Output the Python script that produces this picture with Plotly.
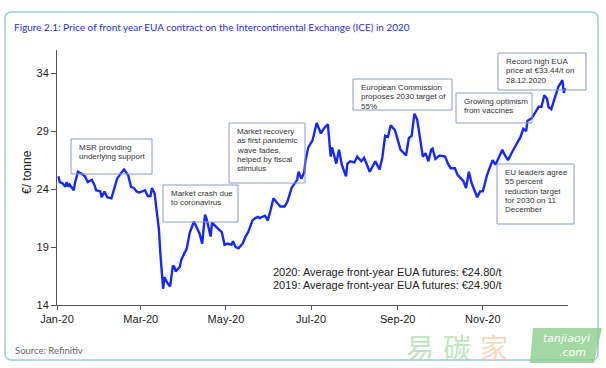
import plotly.graph_objects as go

# ---------------- data ----------------
dates = [
    "2020-01-02", "2020-01-03", "2020-01-05", "2020-01-07", "2020-01-08", "2020-01-09",
    "2020-01-10", "2020-01-13", "2020-01-14", "2020-01-16", "2020-01-19", "2020-01-21",
    "2020-01-23", "2020-01-26", "2020-01-28", "2020-01-29", "2020-02-01", "2020-02-02",
    "2020-02-04", "2020-02-06", "2020-02-09", "2020-02-11", "2020-02-13", "2020-02-16",
    "2020-02-18", "2020-02-21", "2020-02-23", "2020-02-25", "2020-02-27", "2020-02-29",
    "2020-03-02", "2020-03-04", "2020-03-06", "2020-03-08", "2020-03-09", "2020-03-11",
    "2020-03-12", "2020-03-14", "2020-03-15", "2020-03-17", "2020-03-18", "2020-03-20",
    "2020-03-22", "2020-03-24", "2020-03-25", "2020-03-26", "2020-03-29", "2020-03-30",
    "2020-04-03", "2020-04-05", "2020-04-08", "2020-04-10", "2020-04-12", "2020-04-14",
    "2020-04-16", "2020-04-17", "2020-04-20", "2020-04-21", "2020-04-24", "2020-04-26",
    "2020-04-28", "2020-04-30", "2020-05-02", "2020-05-05", "2020-05-06", "2020-05-08",
    "2020-05-10", "2020-05-13", "2020-05-15", "2020-05-17", "2020-05-20", "2020-05-22",
    "2020-05-24", "2020-05-25", "2020-05-29", "2020-05-31", "2020-06-02", "2020-06-04",
    "2020-06-06", "2020-06-09", "2020-06-12", "2020-06-14", "2020-06-17", "2020-06-18",
    "2020-06-21", "2020-06-22", "2020-06-24", "2020-06-26", "2020-06-27", "2020-06-29",
    "2020-07-02", "2020-07-05", "2020-07-08", "2020-07-10", "2020-07-13", "2020-07-15",
    "2020-07-16", "2020-07-19", "2020-07-21", "2020-07-23", "2020-07-26", "2020-07-27",
    "2020-07-29", "2020-08-01", "2020-08-03", "2020-08-06", "2020-08-08", "2020-08-12",
    "2020-08-14", "2020-08-16", "2020-08-19", "2020-08-21", "2020-08-23", "2020-08-25",
    "2020-08-27", "2020-08-30", "2020-08-31", "2020-09-03", "2020-09-07", "2020-09-09",
    "2020-09-11", "2020-09-13", "2020-09-15", "2020-09-17", "2020-09-19", "2020-09-21",
    "2020-09-23", "2020-09-25", "2020-09-26", "2020-09-28", "2020-10-01", "2020-10-05",
    "2020-10-07", "2020-10-09", "2020-10-12", "2020-10-14", "2020-10-18", "2020-10-20",
    "2020-10-22", "2020-10-24", "2020-10-26", "2020-10-28", "2020-10-30", "2020-11-01",
    "2020-11-04", "2020-11-06", "2020-11-08", "2020-11-10", "2020-11-12", "2020-11-15",
    "2020-11-16", "2020-11-19", "2020-11-22", "2020-11-25", "2020-11-28", "2020-11-30",
    "2020-12-02", "2020-12-03", "2020-12-06", "2020-12-09", "2020-12-11", "2020-12-13",
    "2020-12-15", "2020-12-17", "2020-12-18", "2020-12-20", "2020-12-23", "2020-12-25",
    "2020-12-28", "2020-12-29", "2020-12-30",
]
prices = [
    25.1, 24.6, 24.5, 24.2, 24.6, 24.2,
    24.4, 23.9, 24.6, 25.5, 25.3, 25.1,
    24.6, 24.8, 24.3, 23.9, 23.8, 23.3,
    23.8, 23.3, 23.2, 24.1, 24.9, 25.4,
    25.7, 25.2, 24.2, 24.1, 23.8, 23.7,
    23.8, 23.9, 23.4, 23.4, 24.1, 23.6,
    22.5, 20.5, 18.5, 15.4, 16.4, 15.9,
    15.6, 17.4, 17.3, 16.9, 17.3, 17.9,
    18.9, 20.2, 21.2, 20.7, 20.2, 19.3,
    21.8, 21.5, 19.9, 21.1, 20.7, 20.5,
    20.3, 19.2, 19.3, 19.2, 19.5, 19.0,
    18.9, 19.3, 19.9, 20.3, 21.3, 21.5,
    21.6, 21.5, 21.7, 21.3, 22.2, 23.2,
    22.9, 22.5, 22.5, 22.9, 24.1, 24.3,
    24.8, 25.5, 24.9, 25.4, 26.5, 27.6,
    28.2, 29.7, 28.8, 29.2, 29.6, 26.8,
    27.6, 26.2, 27.4, 26.1, 25.1, 26.2,
    26.4, 26.3, 26.8, 26.4, 26.7, 25.5,
    25.9, 26.4, 25.7, 26.7, 28.6, 28.5,
    29.5, 29.1, 28.7, 27.4, 26.9, 28.4,
    28.6, 30.5, 30.0, 28.3, 26.8, 27.1,
    26.4, 27.4, 27.5, 26.6, 26.9, 26.8,
    26.2, 25.8, 25.8, 25.2, 24.7, 24.1,
    25.5, 24.5, 23.9, 23.3, 23.8, 23.8,
    25.2, 25.9, 26.5, 26.1, 26.6, 27.4,
    27.1, 26.5, 27.2, 27.8, 28.5, 29.2,
    29.0, 29.9, 30.1, 30.7, 31.1, 31.1,
    32.1, 31.8, 31.1, 30.9, 32.0, 32.8,
    33.4, 32.3, 32.7,
]

x_tick_vals = ["2020-01-01", "2020-03-01", "2020-05-01", "2020-07-01", "2020-09-01", "2020-11-01"]
x_tick_text = ["Jan-20", "Mar-20", "May-20", "Jul-20", "Sep-20", "Nov-20"]
y_tick_vals = [14, 19, 24, 29, 34]

title_text = "Figure 2.1: Price of front year EUA contract on the Intercontinental Exchange (ICE) in 2020"
y_title = "€/ tonne"
source_text = "Source: Refinitiv"
avg_lines = ["2020: Average front-year EUA futures: €24.80/t",
             "2019: Average front-year EUA futures: €24.90/t"]

callouts = [
    ["MSR providing", "underlying support"],
    ["Market crash due", "to coronavirus"],
    ["Market recovery", "as first pandemic", "wave fades,", "helped by fiscal", "stimulus"],
    ["European Commission", "proposes 2030 target of", "55%"],
    ["Growing optimism", "from vaccines"],
    ["Record high EUA", "price at €33.44/t on", "28.12.2020"],
    ["EU leaders agree", "55 percent", "reduction target", "for 2030 on 11", "December"],
]

# ---------------- layout geometry (pixels) ----------------
W, H = 606, 368
L, R, T, B = 57, 38, 50, 63
PW, PH = W - L - R, H - T - B


def px(x):
    return (x - L) / PW


def py(y):
    return (H - B - y) / PH


# box pixel rectangles (left, top, right, bottom)
boxes = [
    (71, 139, 152, 174),
    (163, 185, 238, 222),
    (229, 123, 305, 183),
    (353, 79, 452, 110),
    (456, 93, 532, 123),
    (498, 53, 586, 90),
    (497, 164, 574, 224),
]

BODY = "Liberation Sans, Arial, sans-serif"
NARROW = "Lato, sans-serif"

fig = go.Figure()
fig.add_trace(go.Scatter(
    x=dates, y=prices, mode="lines",
    line=dict(color="#1628ff", width=2.4),
    hoverinfo="skip", showlegend=False,
))

shapes = []
annotations = []

# outer rounded frame
x0, y0, x1, y1, r = 5, 12, 598, 360, 7
path = (f"M {px(x0 + r)},{py(y0)} L {px(x1 - r)},{py(y0)} Q {px(x1)},{py(y0)} {px(x1)},{py(y0 + r)} "
        f"L {px(x1)},{py(y1 - r)} Q {px(x1)},{py(y1)} {px(x1 - r)},{py(y1)} "
        f"L {px(x0 + r)},{py(y1)} Q {px(x0)},{py(y1)} {px(x0)},{py(y1 - r)} "
        f"L {px(x0)},{py(y0 + r)} Q {px(x0)},{py(y0)} {px(x0 + r)},{py(y0)} Z")
shapes.append(dict(type="path", xref="paper", yref="paper", path=path,
                   line=dict(color="#9ccbe0", width=1.5), layer="below"))

# callout boxes and text
for (bl, bt, br, bb), lines in zip(boxes, callouts):
    shapes.append(dict(type="rect", xref="paper", yref="paper",
                       x0=px(bl), x1=px(br), y0=py(bb), y1=py(bt),
                       line=dict(color="#8a9cc8", width=1)))
    for i, ln in enumerate(lines):
        annotations.append(dict(
            xref="paper", yref="paper", x=px(bl + 5.5), y=py(bt + 8.3 + 9.4 * i),
            xanchor="left", yanchor="middle", showarrow=False, text=ln,
            font=dict(family=BODY, size=8, color="#333333")))

# title
annotations.append(dict(xref="paper", yref="paper", x=px(12), y=py(27),
                        xanchor="left", yanchor="middle", showarrow=False,
                        text=title_text,
                        font=dict(family=NARROW, size=10, color="#2536d4")))
# source
annotations.append(dict(xref="paper", yref="paper", x=px(13), y=py(350),
                        xanchor="left", yanchor="middle", showarrow=False,
                        text=source_text,
                        font=dict(family=NARROW, size=9.5, color="#666666")))
# y title
annotations.append(dict(xref="paper", yref="paper", x=px(27), y=py(172),
                        xanchor="center", yanchor="middle", showarrow=False,
                        text=y_title, textangle=-90,
                        font=dict(family=BODY, size=12, color="#222222")))
# average text
for i, ln in enumerate(avg_lines):
    annotations.append(dict(xref="paper", yref="paper", x=px(271), y=py(272 + 13 * i),
                            xanchor="left", yanchor="middle", showarrow=False,
                            text=ln, font=dict(family=BODY, size=11, color="#222222")))

# watermark
wm = [("易", 420, "#a9dca9"), ("碳", 457, "#a9dca9"), ("家", 494, "#f5cba6")]
for ch, cx, col in wm:
    annotations.append(dict(xref="paper", yref="paper", x=px(cx), y=py(347),
                            xanchor="center", yanchor="middle", showarrow=False,
                            text=ch, opacity=0.75,
                            font=dict(family="Noto Sans CJK SC", size=28, color=col)))
shapes.append(dict(type="path", xref="paper", yref="paper",
                   path=(f"M {px(533)},{py(328)} L {px(602)},{py(328)} L {px(594)},{py(363)} "
                         f"L {px(530)},{py(363)} Z"),
                   fillcolor="rgba(140,205,140,0.8)", line=dict(width=0)))
annotations.append(dict(xref="paper", yref="paper", x=px(592), y=py(338),
                        xanchor="right", yanchor="middle", showarrow=False,
                        text="<i>tanjiaoyi</i>",
                        font=dict(family="DejaVu Sans", size=11, color="white")))
annotations.append(dict(xref="paper", yref="paper", x=px(588), y=py(352),
                        xanchor="right", yanchor="middle", showarrow=False,
                        text="<i>.com</i>",
                        font=dict(family="DejaVu Sans", size=11, color="white")))

fig.update_layout(
    width=W, height=H,
    margin=dict(l=L, r=R, t=T, b=B, pad=0),
    paper_bgcolor="white", plot_bgcolor="white",
    shapes=shapes, annotations=annotations,
    xaxis=dict(range=["2020-01-01", "2021-01-01"], tickvals=x_tick_vals, ticktext=x_tick_text,
               showline=True, linecolor="#555555", linewidth=1, ticks="outside", ticklen=4,
               tickcolor="#555555", showgrid=False, zeroline=False, automargin=False,
               tickfont=dict(family=BODY, size=11, color="#222222")),
    yaxis=dict(range=[14, 36], tickvals=y_tick_vals, showline=True, linecolor="#555555",
               linewidth=1, ticks="outside", ticklen=5, tickcolor="#555555",
               showgrid=False, zeroline=False, automargin=False,
               tickfont=dict(family=BODY, size=11, color="#222222")),
)

fig.write_html("out.html", config={"displayModeBar": False},
               post_script="document.body.style.margin='0';")
